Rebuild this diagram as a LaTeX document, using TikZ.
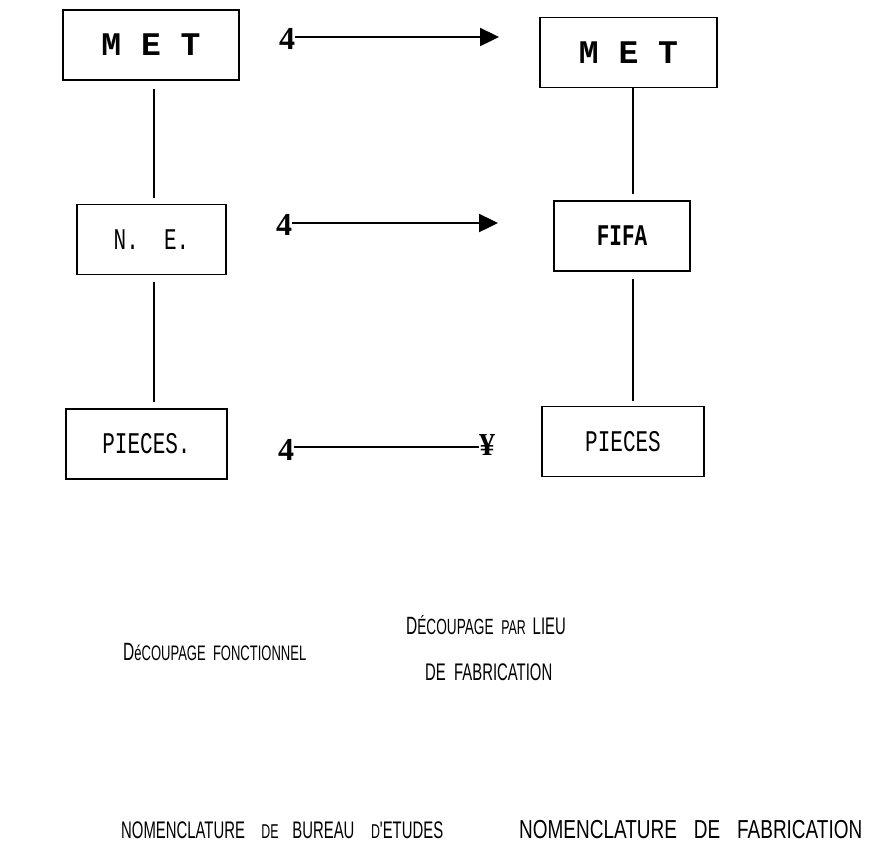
\documentclass[tikz,border=0pt]{standalone}
\usepackage{fontspec}
\usepackage{tikz}
\usetikzlibrary{arrows.meta}
\newfontfamily\machine[FakeStretch=0.7]{Liberation Mono}
\newfontfamily\machinelarge{Liberation Mono}
\newfontfamily\frappe{Liberation Serif}
\newfontfamily\etroit[FakeStretch=0.62,WordSpace=3.5]{Liberation Sans}
\newfontfamily\etroitb[FakeStretch=0.73,WordSpace=3.2]{Liberation Sans}
\newfontfamily\etroitc[FakeStretch=0.62,WordSpace=2]{Liberation Sans}
\newcommand{\taille}[1]{\fontsize{#1}{#1}\selectfont}

\tikzset{
  boite/.style={draw, line width=1.6pt, minimum height=70pt, inner sep=0pt, font=\machine\taille{30}},
  trait/.style={line width=1.3pt},
  fleche/.style={line width=2.4pt, -{Triangle[length=19pt,width=18pt]}},
  chiffre/.style={inner sep=0pt, font=\frappe\bfseries\taille{32}},
  legende/.style={anchor=base west, inner sep=0pt, font=\etroit}
}

\begin{document}
\begin{tikzpicture}[x=1pt,y=1pt,yscale=-1,xscale=1]
\useasboundingbox (0,0) rectangle (889,855);

% colonne de gauche
\node (metG) at (151,45) [boite, minimum width=176pt] {\machinelarge\bfseries\taille{33}M E T};
\node (neG) at (151.5,239.5) [boite, minimum width=149pt] {N.~~E.};
\node (piecesG) at (146.5,444) [boite, minimum width=161pt] {PIECES.};

% colonne de droite
\node (metD) at (628.5,52.5) [boite, minimum width=177pt] {\machinelarge\bfseries\taille{33}M E T};
\node (fifa) at (622,236) [boite, minimum width=136pt] {\bfseries FIFA};
\node (piecesD) at (623,441.5) [boite, minimum width=162pt] {PIECES};

\coordinate (axeG) at (154,0);
\coordinate (axeD) at (633,0);
\draw [trait] ([yshift=8pt]metG.south -| axeG) -- ([yshift=-6pt]neG.north -| axeG);
\draw [trait] ([yshift=7pt]neG.south -| axeG) -- ([yshift=-6pt]piecesG.north -| axeG);
\draw [trait] (metD.south -| axeD) -- ([yshift=-6pt]fifa.north -| axeD);
\draw [trait] ([yshift=7pt]fifa.south -| axeD) -- ([yshift=-5pt]piecesD.north -| axeD);

% fleches
\node (quatre1) at (287,39) [chiffre] {4};
\node (quatre2) at (284,225) [chiffre] {4};
\node (quatre3) at (286,450) [chiffre] {4};
\node (yen) at (487,445) [chiffre] {¥};
\coordinate (bout1) at (499,37);
\coordinate (bout2) at (498,223);
\draw [fleche] (quatre1.east |- bout1) -- (bout1);
\draw [fleche] (quatre2.east |- bout2) -- (bout2);
\draw [line width=2.4pt] (quatre3.east |- 0,447) -- (yen.west |- 0,447);

% legendes
\node (decG) at (123,660) [legende, font=\etroitc] {\taille{25}D\taille{21}éCOUPAGE FONCTIONNEL};
\node (decD) at (406,634) [legende] {\taille{25}D\taille{22}ÉCOUPAGE \taille{20}PAR \taille{24}LIEU};
\node (fab) at (425,680) [legende] {\taille{24}DE FABRICATION};
\node (nomG) at (121,838) [legende, font=\etroitc] {\taille{24}NOMENCLATURE \taille{20}DE \taille{24}BUREAU \taille{20}D\taille{24}'ETUDES};
\node (nomD) at (519,838) [legende, font=\etroitb] {\taille{26}NOMENCLATURE DE FABRICATION};
\end{tikzpicture}
\end{document}
